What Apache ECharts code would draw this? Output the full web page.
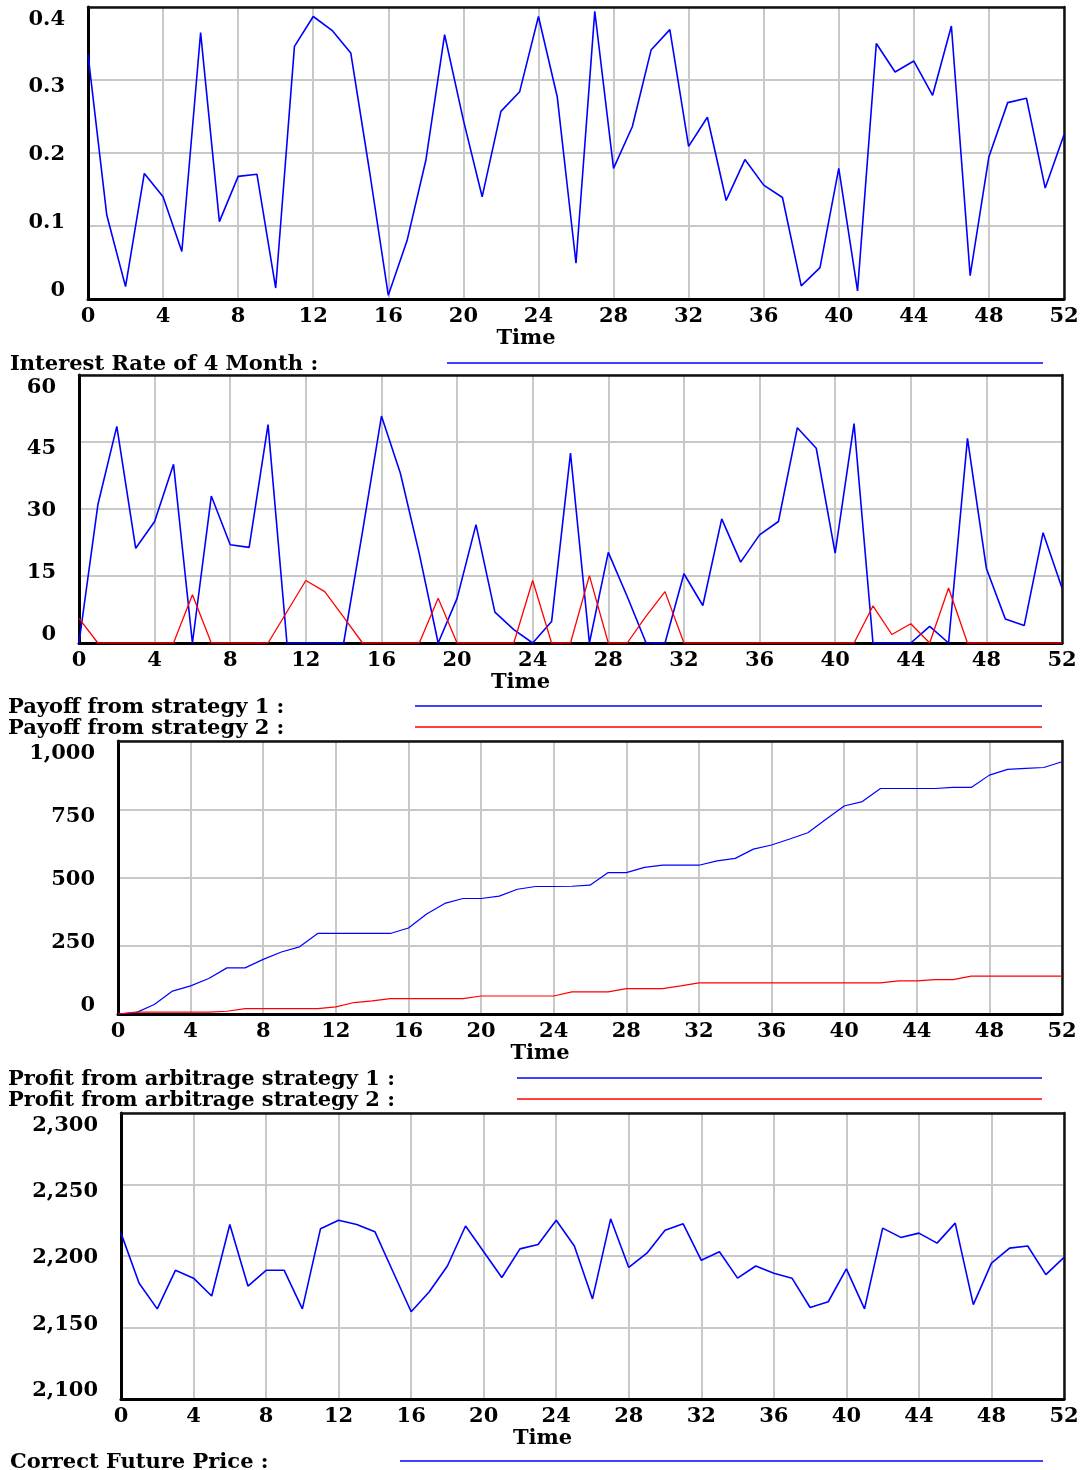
<!DOCTYPE html>
<html lang="en">
<head>
    <meta charset="UTF-8">
    <title>Arbitrage simulation</title>
    <script src="https://cdn.jsdelivr.net/npm/echarts@6/dist/echarts.min.js"></script>
    <style>
        body { margin: 0; background: #fff; }
    </style>
</head>
<body>
<div id="main" style="width: 1085px;height:1470px;"></div>
<script type="text/javascript">
// time axis (weeks)
let time = [0,1,2,3,4,5,6,7,8,9,10,11,12,13,14,15,16,17,18,19,20,21,22,23,24,25,26,
    27,28,29,30,31,32,33,34,35,36,37,38,39,40,41,42,43,44,45,46,47,48,49,50,51,52];

// Interest Rate of 4 Month
let rate4 = [0.335,0.115,0.017,0.172,0.14,0.065,0.365,0.106,0.168,0.171,0.015,0.346,0.387,0.368,
    0.337,0.175,0.005,0.08,0.19,0.362,0.245,0.14,0.257,0.284,0.387,0.277,0.049,0.394,0.179,0.236,
    0.341,0.369,0.209,0.249,0.135,0.191,0.156,0.139,0.018,0.043,0.179,0.011,0.35,0.311,0.326,
    0.279,0.374,0.032,0.195,0.269,0.275,0.152,0.225];

// Payoff from strategy 1 / 2
let payoff1 = [0,31,48.5,21.2,27.2,40,0,32.9,22,21.4,48.9,0,0,0,0,25,50.8,38,20,0,10,26.5,6.9,3,0,
    4.8,42.5,0,20.3,10.4,0,0,15.5,8.4,27.8,18.1,24.2,27.2,48.2,43.6,20.1,49.1,0,0,0,3.7,0,45.8,
    16.7,5.4,3.9,24.7,12.3];
let payoff2 = [5.5,0,0,0,0,0,10.8,0,0,0,0,7,14,11.5,5.8,0,0,0,0,10,0,0,0,0,14,0,0,15.1,0,0,6,11.5,
    0,0,0,0,0,0,0,0,0,0,8.3,1.9,4.3,0,12.3,0,0,0,0,0,0];

// Profit from arbitrage strategy 1 / 2
let profit1 = [0,5,35,84,103,130,169,169,200,227,246,295,295,295,295,295,315,366,405,423,423,432,
    457,467,467,468,472,518,518,537,545,545,545,561,570,604,619,641,664,713,762,778,826,826,826,
    826,830,830,875,896,900,903,924];
let profit2 = [0,7,7,7,7,7,10,20,20,20,20,20,26,42,48,56,56,56,56,56,66,66,66,66,66,81,81,81,93,93,
    93,103,114,114,114,114,114,114,114,114,114,114,114,121,121,126,126,139,139,139,139,139,139];

// Correct Future Price
let futurePrice = [2216,2181,2163,2190,2184.5,2172,2222,2179,2190,2190,2163,2219,2225,2222,2217,
    2189,2161,2175,2193,2221,2203,2185,2205,2208,2225,2207,2170,2226,2192,2202,2218,2222.5,2197,
    2203,2184.5,2193,2188,2184.5,2164,2168,2191,2163,2219.5,2213,2216,2209,2223,2166,2195,2205.5,
    2207,2187,2199];

let xTicks = {min: 0, max: 52, interval: 4};
let yTicks = [
    {min: 0, max: 0.4, interval: 0.1},
    {min: 0, max: 60, interval: 15},
    {min: 0, max: 1000, interval: 250},
    {min: 2100, max: 2300, interval: 50}
];

const FONT = 'DejaVu Serif';
const FS = 21;
const BLUE = '#0000ff';
const RED = '#ff0000';

function pairs(ys) {
    return ys.map(function (v, i) { return [time[i], v]; });
}

function fmt(v) {
    let s = String(Math.round(v * 1000) / 1000);
    if (Math.abs(v) >= 1000) {
        s = Math.round(v).toString().replace(/\B(?=(\d{3})+(?!\d))/g, ',');
    }
    return s;
}

// vensim squeezes tick labels inward, mimic with padding per index
let labelRich = {};
[[0,0,17,0],[0,0,6,0],[4,0,0,0],[14,0,0,0],[26,0,0,0]].forEach(function (p, i) {
    labelRich['p' + i] = {padding: p, fontFamily: FONT, fontWeight: 'bold', fontSize: FS, color: '#000'};
});

let grids = [
    {left: 88, right: 21, top: 7, height: 292},
    {left: 79, right: 23, top: 375, height: 268},
    {left: 118, right: 23, top: 741, height: 273},
    {left: 121, right: 21, top: 1113, height: 286}
];

let xAxes = grids.map(function (g, i) {
    return {
        type: 'value', gridIndex: i,
        min: xTicks.min, max: xTicks.max, interval: xTicks.interval,
        name: 'Time', nameLocation: 'middle', nameGap: 29,
        nameTextStyle: {fontFamily: FONT, fontWeight: 'bold', fontSize: FS, color: '#000', padding: [0, 100, 0, 0]},
        axisLine: {onZero: false, lineStyle: {color: '#000', width: 3}},
        axisTick: {show: false},
        axisLabel: {margin: 7, fontFamily: FONT, fontWeight: 'bold', fontSize: FS, color: '#000'},
        splitLine: {show: true, lineStyle: {color: '#c8c8c8', width: 2}}
    };
});

let yAxes = yTicks.map(function (t, i) {
    return {
        type: 'value', gridIndex: i,
        min: t.min, max: t.max, interval: t.interval,
        axisLine: {show: true, onZero: false, lineStyle: {color: '#000', width: 3}},
        axisTick: {show: false},
        axisLabel: {
            margin: 23,
            formatter: function (v, idx) { return '{p' + idx + '|' + fmt(v) + '}'; },
            rich: labelRich
        },
        splitLine: {show: true, lineStyle: {color: '#c8c8c8', width: 2}}
    };
});

// frame on top and right side of each panel
grids.forEach(function (g, i) {
    xAxes.push({
        type: 'value', gridIndex: i, position: 'top',
        min: xTicks.min, max: xTicks.max, interval: xTicks.interval,
        axisLine: {show: true, onZero: false, lineStyle: {color: '#111', width: 2.5}},
        axisTick: {show: false}, axisLabel: {show: false}, splitLine: {show: false}
    });
    yAxes.push({
        type: 'value', gridIndex: i, position: 'right',
        min: yTicks[i].min, max: yTicks[i].max, interval: yTicks[i].interval,
        axisLine: {show: true, onZero: false, lineStyle: {color: '#111', width: 2.5}},
        axisTick: {show: false}, axisLabel: {show: false}, splitLine: {show: false}
    });
});

function lineSeries(name, ys, idx, color, w) {
    return {
        name: name, type: 'line', xAxisIndex: idx, yAxisIndex: idx,
        data: pairs(ys), showSymbol: false, symbol: 'none',
        lineStyle: {color: color, width: w}, itemStyle: {color: color},
        animation: false
    };
}

// legend rows under each panel: label + long sample line
let legendRows = [
    {text: 'Interest Rate of 4 Month :', x: 10, y: 363, x1: 447, x2: 1043, color: BLUE},
    {text: 'Payoff from strategy 1 :', x: 8, y: 706, x1: 415, x2: 1042, color: BLUE},
    {text: 'Payoff from strategy 2 :', x: 8, y: 727, x1: 415, x2: 1042, color: RED},
    {text: 'Profit from arbitrage strategy 1 :', x: 8, y: 1078, x1: 517, x2: 1042, color: BLUE},
    {text: 'Profit from arbitrage strategy 2 :', x: 8, y: 1099, x1: 517, x2: 1042, color: RED},
    {text: 'Correct Future Price :', x: 10, y: 1461, x1: 400, x2: 1043, color: BLUE}
];
let graphics = [];
legendRows.forEach(function (r) {
    graphics.push({
        type: 'text', left: r.x, top: r.y - 9,
        style: {text: r.text, fill: '#000', font: 'bold ' + FS + 'px "' + FONT + '"'}
    });
    graphics.push({
        type: 'line', shape: {x1: r.x1, y1: r.y, x2: r.x2, y2: r.y},
        style: {stroke: r.color, lineWidth: 1.5}
    });
});

let myChart = echarts.init(document.getElementById('main'), null, {renderer: 'canvas'});
let option = {
    backgroundColor: '#fff',
    animation: false,
    grid: grids,
    xAxis: xAxes,
    yAxis: yAxes,
    series: [
        lineSeries('Interest Rate of 4 Month', rate4, 0, BLUE, 1.6),
        lineSeries('Payoff from strategy 1', payoff1, 1, BLUE, 1.6),
        lineSeries('Payoff from strategy 2', payoff2, 1, RED, 1.3),
        lineSeries('Profit from arbitrage strategy 1', profit1, 2, BLUE, 1.2),
        lineSeries('Profit from arbitrage strategy 2', profit2, 2, RED, 1.2),
        lineSeries('Correct Future Price', futurePrice, 3, BLUE, 1.6)
    ],
    graphic: graphics
};
myChart.setOption(option);
</script>
</body>
</html>
